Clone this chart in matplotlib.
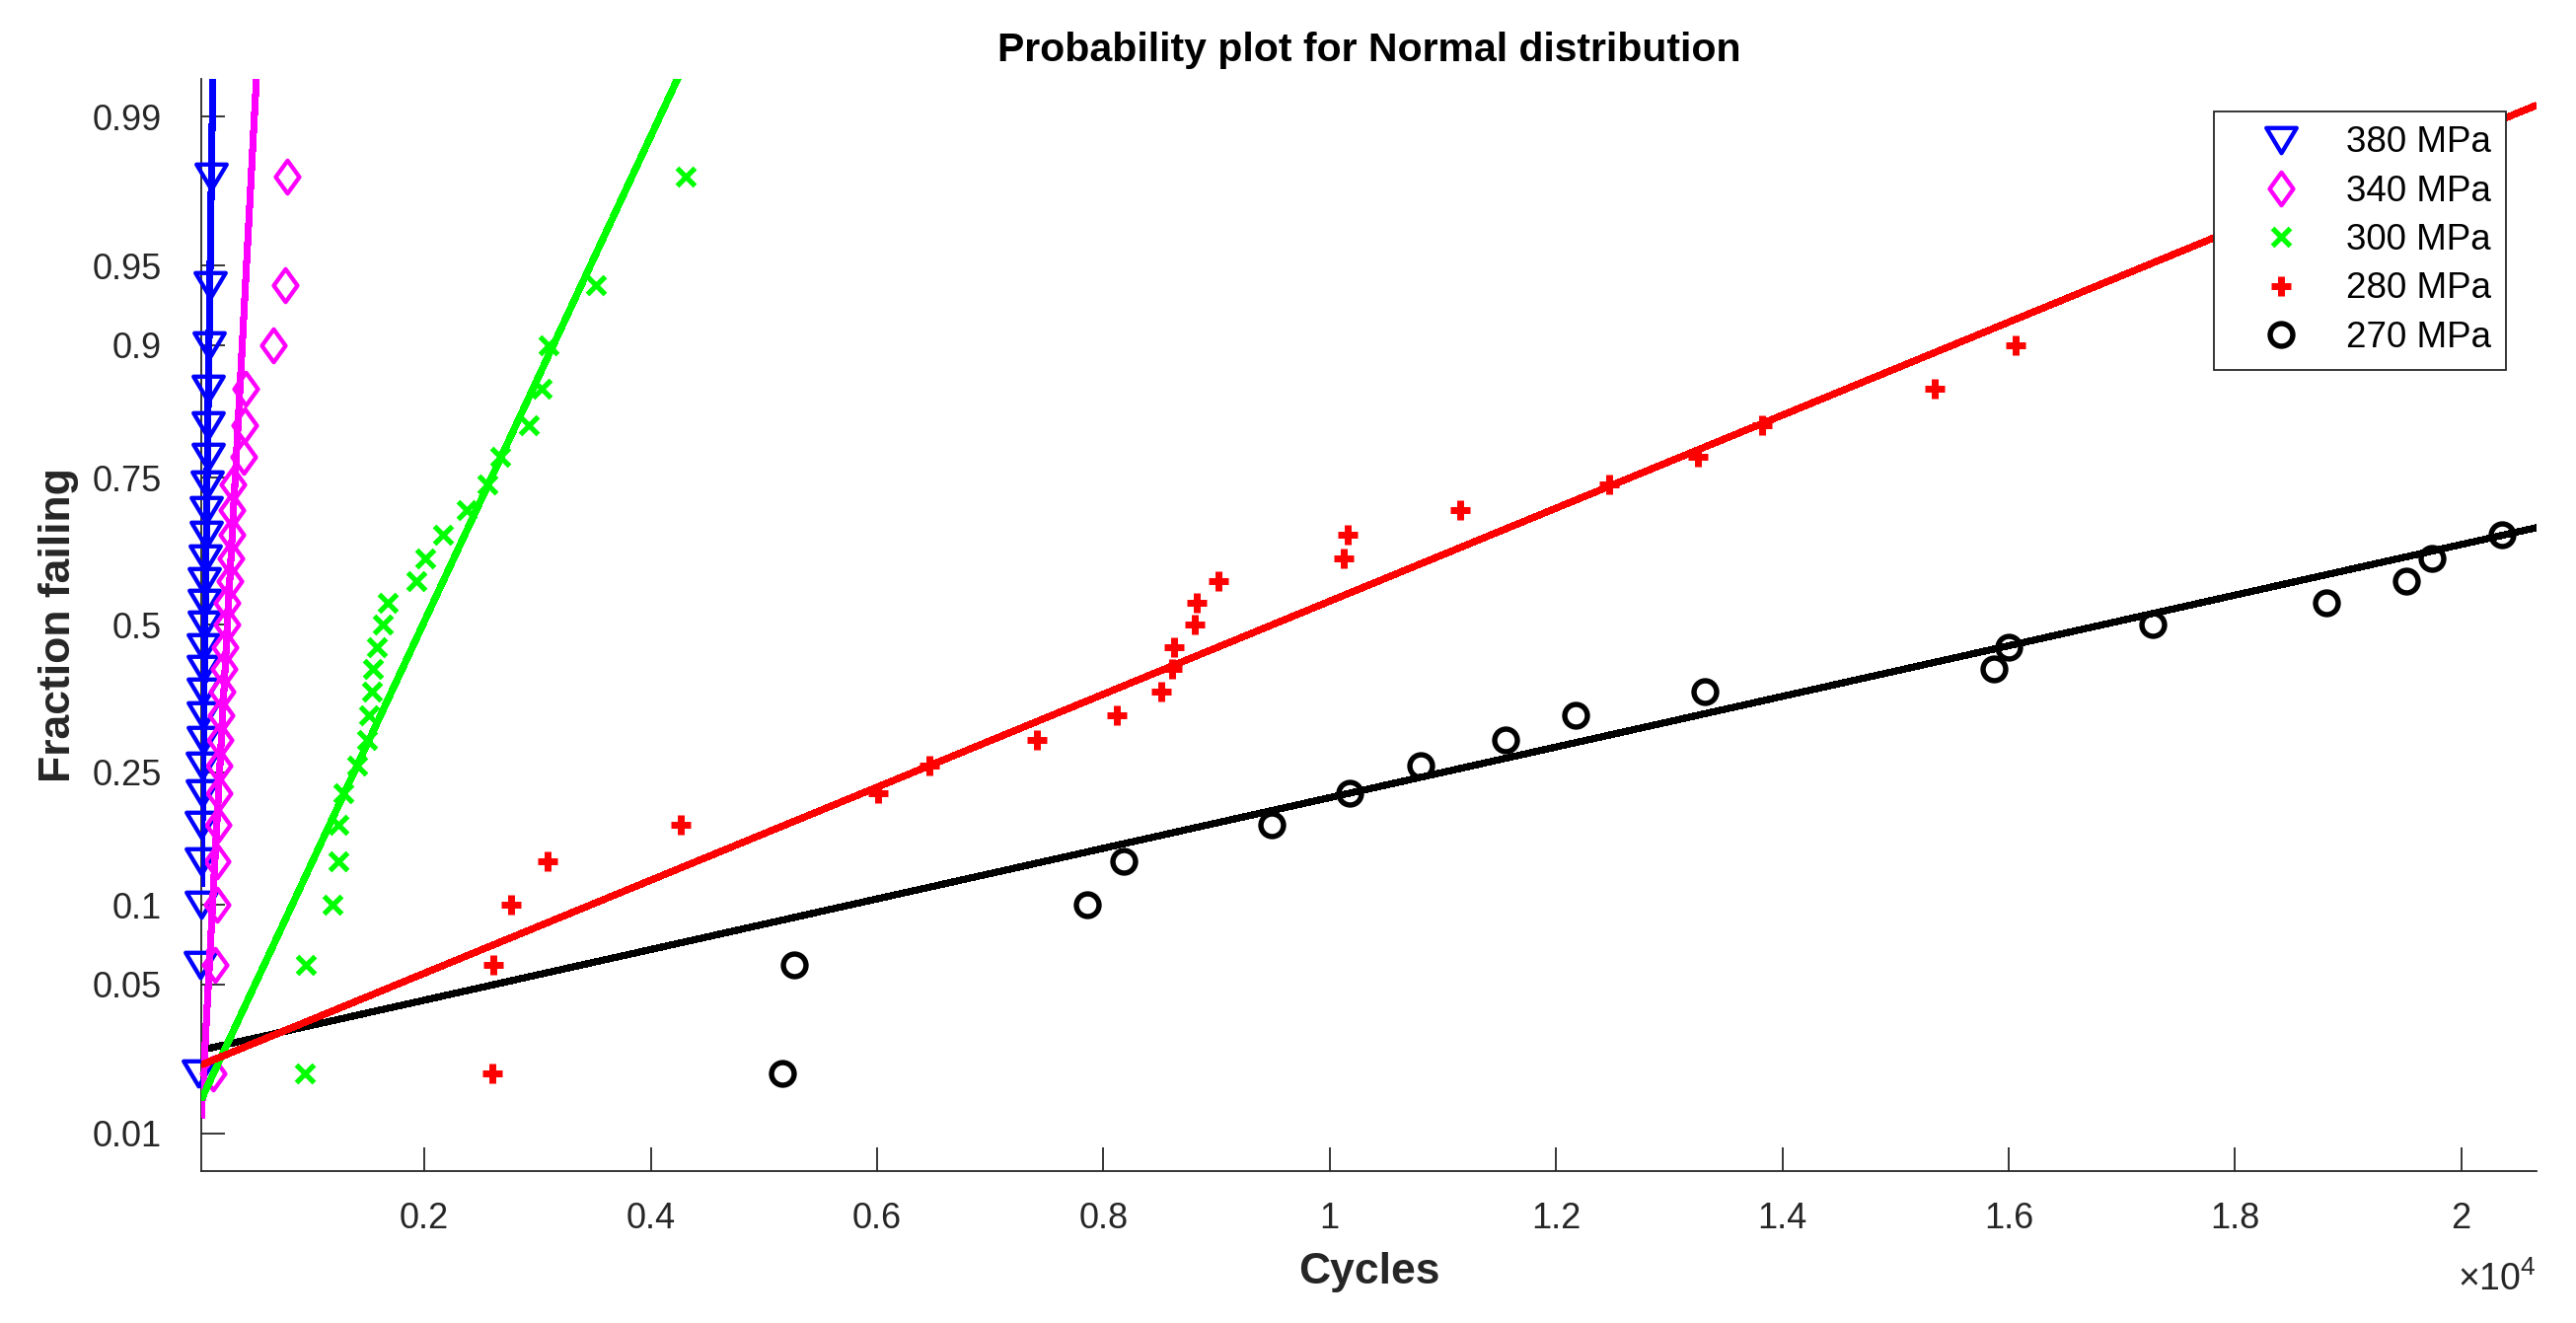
import math
from statistics import NormalDist

import numpy as np
import matplotlib
matplotlib.use("Agg")
import matplotlib.pyplot as plt
from matplotlib.path import Path
from matplotlib.ticker import FixedLocator, FixedFormatter

plt.rcParams["font.family"] = ["Liberation Sans", "DejaVu Sans"]
plt.rcParams["mathtext.fontset"] = "custom"
plt.rcParams["mathtext.rm"] = "Liberation Sans"
plt.rcParams["mathtext.it"] = "Liberation Sans"

# ---------------- data ----------------
n_specimens = 25
plot_positions = [(i - 0.5) / n_specimens for i in range(1, n_specimens + 1)]

series_labels = ["380 MPa", "340 MPa", "300 MPa", "280 MPa", "270 MPa"]

cycles_380 = [5, 22, 30, 30, 30, 35, 37, 43, 48, 48, 48, 48, 57, 57, 57,
              65, 71, 74, 80, 86, 89, 89, 95, 109, 118]
cycles_340 = [130, 150, 167, 167, 176, 182, 187, 196, 205, 211, 226, 240,
              255, 255, 283, 292, 298, 298, 304, 405, 414, 423, 661, 772, 786]
cycles_300 = [945, 955, 1190, 1237, 1242, 1281, 1408, 1490, 1510, 1539, 1547,
              1583, 1635, 1678, 1926, 2007, 2167, 2376, 2559, 2672, 2920,
              3038, 3097, 3518, 4308]
cycles_280 = [2597, 2608, 2768, 3088, 4267, 6008, 6458, 7417, 8115, 8507,
              8608, 8623, 8812, 8826, 9015, 10120, 10163, 11151, 12473, 13258,
              13824, 15350, 16062]
cycles_270 = [5165, 5267, 7861, 8181, 9488, 10178, 10803, 11558, 12169, 13316,
              15873, 16004, 17277, 18808, 19513, 19739, 20360]

# fitted normal distributions (mean, standard deviation) in cycles
fit_380 = (61, 27.6)
fit_340 = (259, 102.4)
fit_300 = (1985, 900.6)
fit_280 = (9488, 4697)
fit_270 = (16820, 8629)

x_limits = (28, 20665)
p_limits = (0.00621, 0.99379)

x_tick_values = [2000, 4000, 6000, 8000, 10000, 12000, 14000, 16000, 18000, 20000]
x_tick_labels = ["0.2", "0.4", "0.6", "0.8", "1", "1.2", "1.4", "1.6", "1.8", "2"]
p_tick_values = [0.01, 0.05, 0.1, 0.25, 0.5, 0.75, 0.9, 0.95, 0.99]
p_tick_labels = ["0.01", "0.05", "0.1", "0.25", "0.5", "0.75", "0.9", "0.95", "0.99"]

# ---------------- normal probability scale ----------------
_nd = NormalDist()
_inv = np.vectorize(_nd.inv_cdf, otypes=[float])
_cdf = np.vectorize(_nd.cdf, otypes=[float])


def prob_forward(p):
    p = np.clip(np.asarray(p, dtype=float), 1e-12, 1 - 1e-12)
    return _inv(p)


def prob_inverse(z):
    return _cdf(np.asarray(z, dtype=float))


# ---------------- styles ----------------
tri_down = Path([(-1, 0.8333), (1, 0.8333), (0, -0.8333), (-1, 0.8333)], closed=True)
thin_diamond = Path([(0, 1), (0.72, 0), (0, -1), (-0.72, 0), (0, 1)], closed=True)

styles = [
    dict(color=(0, 0, 1), marker=tri_down, ms=22.0, mew=3.1),
    dict(color=(1, 0, 1), marker=thin_diamond, ms=24.0, mew=3.1),
    dict(color=(0, 1, 0), marker="x", ms=12.8, mew=3.8),
    dict(color=(1, 0, 0), marker="+", ms=15.0, mew=5.0),
    dict(color=(0, 0, 0), marker="o", ms=16.5, mew=3.9),
]
all_cycles = [cycles_380, cycles_340, cycles_300, cycles_280, cycles_270]
all_fits = [fit_380, fit_340, fit_300, fit_280, fit_270]

axis_color = "#262626"

fig = plt.figure(figsize=(26.11, 13.41), dpi=100)
ax = fig.add_axes([204 / 2611, 1 - 1187 / 1341, (2571 - 204) / 2611, (1187 - 80) / 1341])
ax.set_yscale("function", functions=(prob_forward, prob_inverse))

marker_handles = []
for cyc, st, lab in zip(all_cycles, styles, series_labels):
    h, = ax.plot(cyc, plot_positions[:len(cyc)], linestyle="none",
                 marker=st["marker"], markersize=st["ms"],
                 markeredgewidth=st["mew"], markeredgecolor=st["color"],
                 markerfacecolor="none", label=lab, clip_on=False, zorder=3,
                 antialiased=False)
    marker_handles.append(h)

line_order = [4, 0, 1, 2, 3]
for k in line_order:
    mu, sd = all_fits[k]
    xlo = max(x_limits[0], mu - 3.2 * sd)
    xhi = min(x_limits[1], mu + 3.2 * sd)
    xl = np.array([xlo, xhi])
    pl = prob_inverse((xl - mu) / sd)
    ax.plot(xl, pl, color=styles[k]["color"], lw=4.4, solid_capstyle="butt",
            zorder=4, antialiased=False)

ax.set_xlim(*x_limits)
ax.set_ylim(*p_limits)

ax.xaxis.set_major_locator(FixedLocator(x_tick_values))
ax.xaxis.set_major_formatter(FixedFormatter(x_tick_labels))
ax.yaxis.set_major_locator(FixedLocator(p_tick_values))
ax.yaxis.set_major_formatter(FixedFormatter(p_tick_labels))
ax.yaxis.set_minor_locator(FixedLocator([]))
ax.xaxis.set_minor_locator(FixedLocator([]))

for side in ["top", "right"]:
    ax.spines[side].set_visible(False)
for side in ["left", "bottom"]:
    ax.spines[side].set_linewidth(1.3)
    ax.spines[side].set_color(axis_color)

ax.tick_params(axis="both", direction="in", length=17.3, width=1.3,
               colors=axis_color, labelsize=26)
ax.tick_params(axis="y", pad=28.8)
ax.tick_params(axis="x", pad=22.3)

ax.set_title("Probability plot for Normal distribution", fontsize=29.5,
             fontweight="bold", color="black", pad=13)
ax.set_xlabel("Cycles", fontsize=32, fontweight="bold", color=axis_color)
ax.set_ylabel("Fraction failing", fontsize=32, fontweight="bold", color=axis_color)
ax.xaxis.set_label_coords(0.5, -0.0741)
ax.yaxis.set_label_coords(-0.0524, 0.5)

ax.text(1.0, -(1308 - 1187) / 1107, r"$\times10^{4}$", transform=ax.transAxes,
        ha="right", va="baseline", fontsize=27, color=axis_color)

leg = ax.legend(handles=marker_handles, loc="upper right",
                bbox_to_anchor=((2540 - 204) / 2367, (1187 - 112.7) / 1107),
                borderaxespad=0, fontsize=26.5, numpoints=1, fancybox=False,
                framealpha=1, edgecolor=axis_color, borderpad=0.4,
                handlelength=2.9, handletextpad=0.345, labelspacing=0.39)
leg.get_frame().set_linewidth(1.3)

fig.savefig("out.png", dpi=100)
